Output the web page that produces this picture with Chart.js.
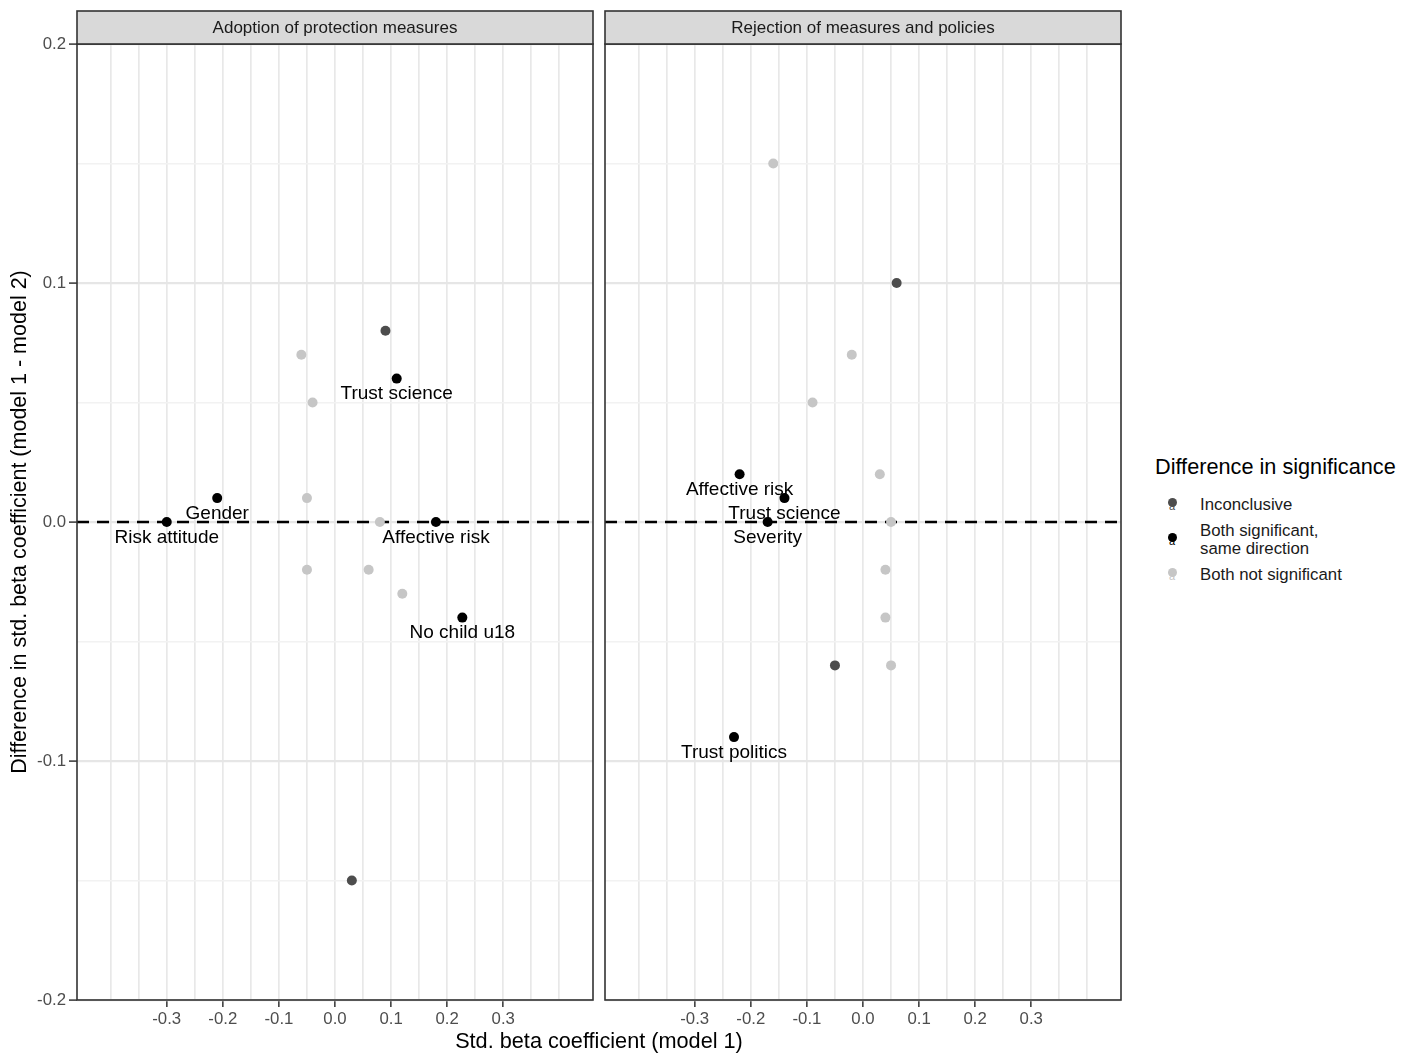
<!DOCTYPE html>
<html>
<head>
<meta charset="utf-8">
<script src="https://cdn.jsdelivr.net/npm/chart.js@4.4.0/dist/chart.umd.min.js"></script>
<style>
    html, body { margin: 0; padding: 0; background: #fff; }
    body {
        width: 1417px; height: 1063px; position: relative; overflow: hidden;
        font-family: "Liberation Sans", Arial, sans-serif;
    }
    .wrap { position: absolute; top: 0; height: 1063px; }
    #leftWrap { left: 0; width: 600px; }
    #rightWrap { left: 600px; width: 527px; }
    #xTitle {
        position: absolute; left: 77px; width: 1044px; top: 1028px;
        text-align: center; font-size: 21.7px; line-height: 26px; color: #000;
    }
    #legend { position: absolute; left: 1155px; top: 0; }
    .lg-title { position: absolute; top: 454px; left: 0; font-size: 21.7px; line-height: 26px; white-space: nowrap; color: #000; }
    .lg-row { position: absolute; left: 0; white-space: nowrap; }
    .lg-key { position: absolute; left: 10px; width: 14px; height: 20px; }
    .lg-key .dot { position: absolute; left: 2.5px; top: 1px; width: 9px; height: 9px; border-radius: 50%; }
    .lg-key .ch { position: absolute; left: 0; width: 14px; top: 3px; text-align: center; font-size: 11px; line-height: 12px; }
    .lg-text { position: absolute; left: 45px; font-size: 16.8px; line-height: 18px; color: #1a1a1a; }
</style>
</head>
<body>
<div class="wrap" id="leftWrap"><canvas id="adoptChart"></canvas></div>
<div class="wrap" id="rightWrap"><canvas id="rejectChart"></canvas></div>
<div id="xTitle">Std. beta coefficient (model 1)</div>
<div id="legend"></div>

<script>
// Axis breaks and tick labels
const xBreaks = [-0.4, -0.35, -0.3, -0.25, -0.2, -0.15, -0.1, -0.05, 0, 0.05, 0.1, 0.15, 0.2, 0.25, 0.3, 0.35, 0.4];
const xTickValues = [-0.3, -0.2, -0.1, 0, 0.1, 0.2, 0.3];
const xTickLabels = ['-0.3', '-0.2', '-0.1', '0.0', '0.1', '0.2', '0.3'];
const yBreaks = [-0.2, -0.15, -0.1, -0.05, 0, 0.05, 0.1, 0.15, 0.2];
const yTickValues = [-0.2, -0.1, 0, 0.1, 0.2];
const yTickLabels = ['-0.2', '-0.1', '0.0', '0.1', '0.2'];

const panelTitles = ['Adoption of protection measures', 'Rejection of measures and policies'];
const groupNames = ['Inconclusive', 'Both significant,\nsame direction', 'Both not significant'];

// Panel 1: adoption of protection measures
const adoptInconX = [0.09, 0.03];
const adoptInconY = [0.08, -0.15];
const adoptSigX = [0.11, -0.21, -0.30, 0.18, 0.227];
const adoptSigY = [0.06, 0.01, 0, 0, -0.04];
const adoptSigLabels = ['Trust science', 'Gender', 'Risk attitude', 'Affective risk', 'No child u18'];
const adoptNsX = [-0.06, -0.04, -0.05, 0.08, -0.05, 0.06, 0.12];
const adoptNsY = [0.07, 0.05, 0.01, 0, -0.02, -0.02, -0.03];

// Panel 2: rejection of measures and policies
const rejectInconX = [0.06, -0.05];
const rejectInconY = [0.10, -0.06];
const rejectSigX = [-0.22, -0.14, -0.17, -0.23];
const rejectSigY = [0.02, 0.01, 0, -0.09];
const rejectSigLabels = ['Affective risk', 'Trust science', 'Severity', 'Trust politics'];
const rejectNsX = [-0.16, -0.02, -0.09, 0.03, 0.05, 0.04, 0.04, 0.05];
const rejectNsY = [0.15, 0.07, 0.05, 0.02, 0, -0.02, -0.04, -0.06];

const groupColors = ['#4d4d4d', '#000000', '#c6c6c6'];
const FONT = '"Liberation Sans", Arial, sans-serif';

Chart.defaults.font.family = FONT;

function toPoints(xs, ys) {
    return xs.map((x, i) => ({ x: x, y: ys[i] }));
}

function findIndex(list, v) {
    return list.findIndex(t => Math.abs(t - v) < 1e-9);
}

// zero line, point labels, panel border and facet strip
const panelDecor = {
    id: 'panelDecor',
    beforeDatasetsDraw(chart) {
        const { ctx, chartArea: a, scales: { y } } = chart;
        const y0 = y.getPixelForValue(0);
        ctx.save();
        ctx.beginPath();
        ctx.rect(a.left, a.top, a.right - a.left, a.bottom - a.top);
        ctx.clip();
        ctx.setLineDash([12, 8]);
        ctx.lineWidth = 2.6;
        ctx.strokeStyle = '#000';
        ctx.beginPath();
        ctx.moveTo(a.left, y0);
        ctx.lineTo(a.right, y0);
        ctx.stroke();
        ctx.restore();
    },
    afterDatasetsDraw(chart, args, opts) {
        const { ctx, chartArea: a } = chart;
        ctx.save();
        ctx.font = '19px ' + FONT;
        ctx.fillStyle = '#000';
        ctx.textAlign = 'center';
        ctx.textBaseline = 'middle';
        chart.data.datasets.forEach((ds, i) => {
            if (!ds.pointLabels) return;
            chart.getDatasetMeta(i).data.forEach((pt, j) => {
                ctx.fillText(ds.pointLabels[j], pt.x, pt.y + 15.5);
            });
        });

        ctx.strokeStyle = '#333';
        ctx.lineWidth = 1.6;
        ctx.strokeRect(a.left, a.top, a.right - a.left, a.bottom - a.top);

        // strip
        const stripTop = 11;
        ctx.fillStyle = '#d9d9d9';
        ctx.fillRect(a.left, stripTop, a.right - a.left, a.top - stripTop);
        ctx.strokeRect(a.left, stripTop, a.right - a.left, a.top - stripTop);
        ctx.fillStyle = '#1a1a1a';
        ctx.font = '17px ' + FONT;
        ctx.fillText(opts.text, (a.left + a.right) / 2, (stripTop + a.top) / 2 + 1);
        ctx.restore();
    }
};

function makeChart(canvasId, title, sets, showY) {
    const datasets = sets.map((s, i) => ({
        label: groupNames[i],
        data: toPoints(s.x, s.y),
        pointLabels: s.labels || null,
        backgroundColor: groupColors[i],
        borderColor: groupColors[i],
        borderWidth: 0,
        pointRadius: 5,
        pointHoverRadius: 5
    }));

    return new Chart(document.getElementById(canvasId), {
        type: 'scatter',
        data: { datasets: datasets },
        plugins: [panelDecor],
        options: {
            responsive: true,
            maintainAspectRatio: false,
            animation: false,
            events: [],
            layout: {
                padding: showY ? { top: 44, left: 0, right: 7, bottom: 0 } : { top: 44, left: 5, right: 6, bottom: 0 }
            },
            plugins: {
                legend: { display: false },
                tooltip: { enabled: false },
                panelDecor: { text: title }
            },
            scales: {
                x: {
                    type: 'linear',
                    min: -0.46,
                    max: 0.46,
                    afterBuildTicks: s => { s.ticks = xBreaks.map(v => ({ value: v })); },
                    afterFit: s => { s.height = 63; },
                    border: { display: false },
                    grid: {
                        color: '#e8e8e8',
                        lineWidth: 1.7,
                        tickLength: 7,
                        tickWidth: 1.5,
                        tickColor: c => findIndex(xTickValues, c.tick.value) >= 0 ? '#333' : 'rgba(0,0,0,0)'
                    },
                    ticks: {
                        autoSkip: false,
                        maxRotation: 0,
                        padding: 2,
                        color: '#4d4d4d',
                        font: { size: 16.8 },
                        callback: v => {
                            const k = findIndex(xTickValues, v);
                            return k >= 0 ? xTickLabels[k] : '';
                        }
                    }
                },
                y: {
                    type: 'linear',
                    min: -0.2,
                    max: 0.2,
                    afterBuildTicks: s => { s.ticks = yBreaks.map(v => ({ value: v })); },
                    afterFit: s => { s.width = showY ? 77 : 0; },
                    border: { display: false },
                    title: {
                        display: showY,
                        text: 'Difference in std. beta coefficient (model 1 - model 2)',
                        color: '#000',
                        font: { size: 21.5 },
                        padding: { top: 7, bottom: 0 }
                    },
                    grid: {
                        color: c => findIndex(yTickValues, c.tick.value) >= 0 ? '#e6e6e6' : '#f2f2f2',
                        lineWidth: c => findIndex(yTickValues, c.tick.value) >= 0 ? 2.2 : 1.4,
                        drawTicks: showY,
                        tickLength: 8,
                        tickWidth: 1.5,
                        tickColor: c => findIndex(yTickValues, c.tick.value) >= 0 ? '#333' : 'rgba(0,0,0,0)'
                    },
                    ticks: {
                        display: showY,
                        autoSkip: false,
                        padding: 3,
                        color: '#4d4d4d',
                        font: { size: 16.8 },
                        callback: v => {
                            const k = findIndex(yTickValues, v);
                            return k >= 0 ? yTickLabels[k] : '';
                        }
                    }
                }
            }
        }
    });
}

makeChart('adoptChart', panelTitles[0], [
    { x: adoptInconX, y: adoptInconY },
    { x: adoptSigX, y: adoptSigY, labels: adoptSigLabels },
    { x: adoptNsX, y: adoptNsY }
], true);

makeChart('rejectChart', panelTitles[1], [
    { x: rejectInconX, y: rejectInconY },
    { x: rejectSigX, y: rejectSigY, labels: rejectSigLabels },
    { x: rejectNsX, y: rejectNsY }
], false);

// Legend
(function buildLegend() {
    const legend = document.getElementById('legend');
    const title = document.createElement('div');
    title.className = 'lg-title';
    title.textContent = 'Difference in significance';
    legend.appendChild(title);

    const rowCenters = [505, 540, 575];
    groupNames.forEach((name, i) => {
        const row = document.createElement('div');
        row.className = 'lg-row';
        row.style.top = rowCenters[i] + 'px';

        const key = document.createElement('div');
        key.className = 'lg-key';
        key.style.top = '-8px';
        const dot = document.createElement('div');
        dot.className = 'dot';
        dot.style.background = groupColors[i];
        const ch = document.createElement('div');
        ch.className = 'ch';
        ch.style.color = groupColors[i];
        ch.textContent = 'a';
        key.appendChild(dot);
        key.appendChild(ch);
        row.appendChild(key);

        const lines = name.split('\n');
        const text = document.createElement('div');
        text.className = 'lg-text';
        text.style.top = (-9 * lines.length) + 'px';
        text.innerHTML = lines.join('<br>');
        row.appendChild(text);
        legend.appendChild(row);
    });
})();
</script>
</body>
</html>
